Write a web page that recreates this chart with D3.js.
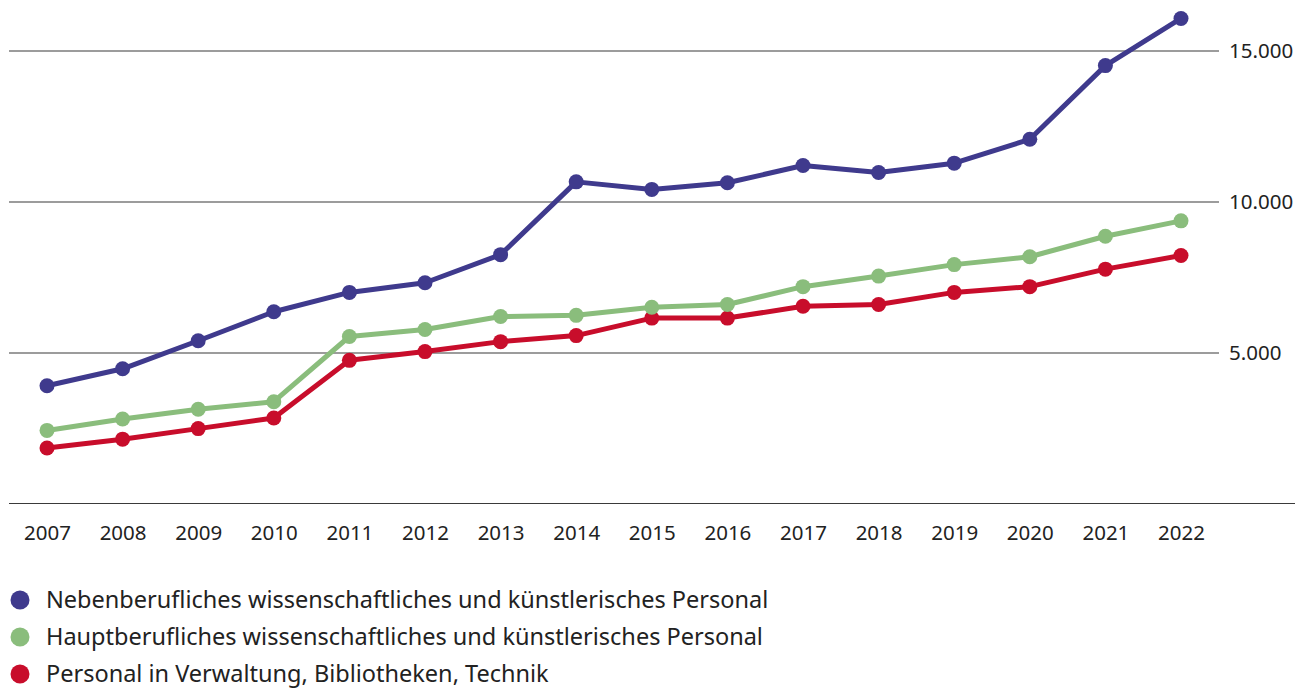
<!DOCTYPE html>
<html>
<head>
<meta charset="utf-8">
<script src="https://cdn.jsdelivr.net/npm/d3@7"></script>
<style>
  html, body { margin: 0; padding: 0; background: #fff; }
  svg { display: block; }
  text { font-family: "Noto Sans", sans-serif; fill: #222; }
</style>
</head>
<body>
<svg id="chart" width="1298" height="688"></svg>
<script>
// years on the x axis
var years = [2007, 2008, 2009, 2010, 2011, 2012, 2013, 2014, 2015, 2016, 2017, 2018, 2019, 2020, 2021, 2022];

// staff numbers
var nebenberuflich = [3900, 4460, 5390, 6350, 6990, 7310, 8240, 10650, 10400, 10620, 11190, 10960, 11270, 12060, 14500, 16060];
var hauptberuflich = [2420, 2800, 3120, 3370, 5530, 5760, 6190, 6230, 6500, 6590, 7180, 7530, 7910, 8170, 8850, 9360];
var verwaltung = [1840, 2130, 2480, 2830, 4740, 5030, 5360, 5560, 6140, 6140, 6530, 6590, 6990, 7180, 7760, 8210];

var yTicks = [5000, 10000, 15000];

var seriesNames = [
  "Nebenberufliches wissenschaftliches und künstlerisches Personal",
  "Hauptberufliches wissenschaftliches und künstlerisches Personal",
  "Personal in Verwaltung, Bibliotheken, Technik"
];
var seriesColors = ["#3f3a8d", "#8abd7c", "#c80d2b"];
var seriesValues = [nebenberuflich, hauptberuflich, verwaltung];

var svg = d3.select("#chart");

var de = d3.formatLocale({decimal: ",", thousands: ".", grouping: [3], currency: ["", " €"]});
var fmt = de.format(",.0f");

var x = d3.scalePoint().domain(years).range([47, 1181]);
var y = d3.scaleLinear().domain([0, 15000]).range([503.5, 50.5]);

var gridLeft = 9, gridRight = 1219;

// horizontal grid lines + right labels
var yAxis = svg.append("g")
  .attr("transform", "translate(" + gridRight + ",0)")
  .call(d3.axisRight(y).tickValues(yTicks).tickFormat(fmt)
    .tickSize(-(gridRight - gridLeft)).tickPadding(10));
yAxis.select(".domain").remove();
yAxis.selectAll("line").attr("stroke", "#3a3a3a").attr("stroke-width", 1.2);
yAxis.selectAll("text")
  .style("font-family", "'Noto Sans', sans-serif")
  .style("font-size", "20.5px")
  .attr("fill", "#222");

// baseline
svg.append("line")
  .attr("x1", gridLeft).attr("x2", 1295)
  .attr("y1", y(0)).attr("y2", y(0))
  .attr("stroke", "#3a3a3a").attr("stroke-width", 1.2);

// year labels
var xAxis = svg.append("g")
  .attr("transform", "translate(0," + y(0) + ")")
  .call(d3.axisBottom(x).tickSize(0).tickPadding(22));
xAxis.select(".domain").remove();
xAxis.selectAll("text")
  .style("font-family", "'Noto Sans', sans-serif")
  .style("font-size", "20.5px")
  .attr("fill", "#222");

var line = d3.line()
  .x(function(d, i) { return x(years[i]); })
  .y(function(d) { return y(d); });

// draw lowest series first so the top one sits above
for (var s = seriesValues.length - 1; s >= 0; s--) {
  var g = svg.append("g");
  g.append("path")
    .datum(seriesValues[s])
    .attr("fill", "none")
    .attr("stroke", seriesColors[s])
    .attr("stroke-width", 5)
    .attr("stroke-linejoin", "round")
    .attr("d", line);
  g.selectAll("circle")
    .data(seriesValues[s])
    .enter().append("circle")
    .attr("cx", function(d, i) { return x(years[i]); })
    .attr("cy", function(d) { return y(d); })
    .attr("r", 7.5)
    .attr("fill", seriesColors[s]);
}

// legend
var legend = svg.append("g");
seriesNames.forEach(function(name, i) {
  var ly = 600 + i * 37;
  legend.append("circle")
    .attr("cx", 20).attr("cy", ly).attr("r", 9.5)
    .attr("fill", seriesColors[i]);
  legend.append("text")
    .attr("x", 46).attr("y", ly)
    .attr("dy", "0.36em")
    .style("font-size", "23.5px")
    .text(name);
});
</script>
</body>
</html>
